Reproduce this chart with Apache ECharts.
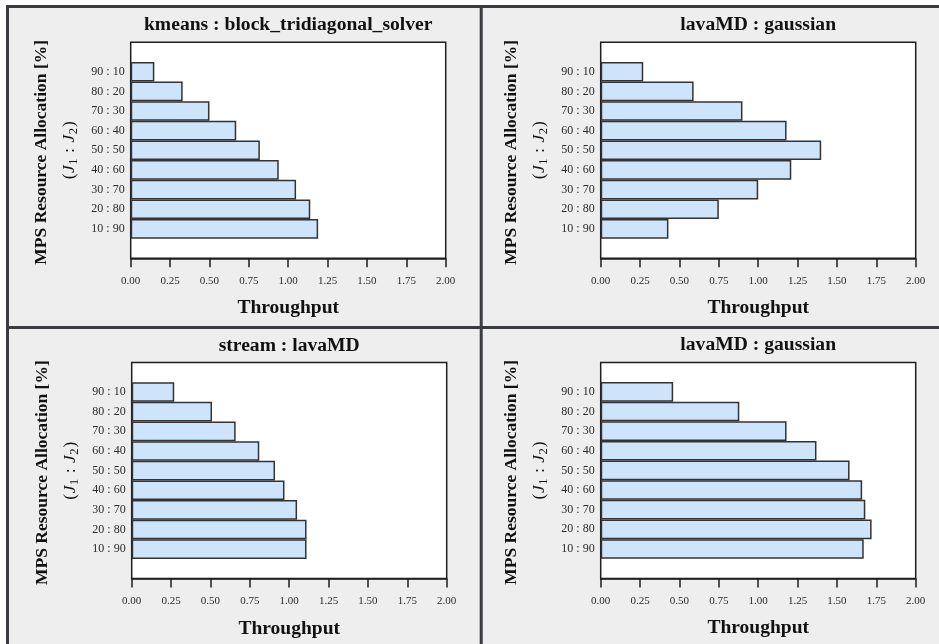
<!DOCTYPE html>
<html>
<head>
<meta charset="utf-8">
<title>MPS resource allocation vs throughput</title>
<script src="https://cdn.jsdelivr.net/npm/echarts@6/dist/echarts.min.js"></script>
<style>
  html, body { margin: 0; padding: 0; background: #ffffff; }
  #chart { width: 939px; height: 644px; }
</style>
</head>
<body>
<div id="chart"></div>
<script>
// ---- data ----
const allocationLabels = ['10 : 90', '20 : 80', '30 : 70', '40 : 60', '50 : 50', '60 : 40', '70 : 30', '80 : 20', '90 : 10'];
const panelTitles = ['kmeans : block_tridiagonal_solver', 'lavaMD : gaussian', 'stream : lavaMD', 'lavaMD : gaussian'];
const kmeansBlockTridiagonal = [1.19, 1.14, 1.05, 0.94, 0.82, 0.67, 0.50, 0.33, 0.15];
const lavaMDGaussianA = [0.43, 0.75, 1.00, 1.21, 1.40, 1.18, 0.90, 0.59, 0.27];
const streamLavaMD = [1.11, 1.11, 1.05, 0.97, 0.91, 0.81, 0.66, 0.51, 0.27];
const lavaMDGaussianB = [1.67, 1.72, 1.68, 1.66, 1.58, 1.37, 1.18, 0.88, 0.46];
const panelValues = [kmeansBlockTridiagonal, lavaMDGaussianA, streamLavaMD, lavaMDGaussianB];
const throughputMin = 0;
const throughputMax = 2;
const throughputStep = 0.25;
const xAxisTitle = 'Throughput';
const yAxisTitle = 'MPS Resource Allocation [%]';

// ---- layout ----
const SERIF = '"Liberation Serif", "Times New Roman", serif';
const plotW = 315, plotH = 216;
const plotBoxes = [
  { left: 130.7, top: 42.3 },
  { left: 600.7, top: 42.3 },
  { left: 131.7, top: 362.6 },
  { left: 600.7, top: 362.4 }
];

const measureCtx = document.createElement('canvas').getContext('2d');
function textWidth(str, size, style, weight) {
  measureCtx.font = (style || 'normal') + ' ' + (weight || 'normal') + ' ' + size + 'px ' + SERIF;
  return measureCtx.measureText(str).width;
}

// pieces of "(J1 : J2)" with subscripts
const mathPieces = [
  { t: '(', size: 17.5, style: 'normal', dy: 0, gap: 0.5 },
  { t: 'J', size: 17.5, style: 'italic', dy: 0, gap: 0.5 },
  { t: '1', size: 12.5, style: 'normal', dy: 4, gap: 5.5 },
  { t: ':', size: 17.5, style: 'normal', dy: 0, gap: 5.5 },
  { t: 'J', size: 17.5, style: 'italic', dy: 0, gap: 0.5 },
  { t: '2', size: 12.5, style: 'normal', dy: 4, gap: 1 },
  { t: ')', size: 17.5, style: 'normal', dy: 0, gap: 0 }
];

function rotatedYTitle(box) {
  const cy = box.top + plotH / 2;
  const line1 = {
    type: 'group', x: box.left - 89, y: cy + 2, rotation: Math.PI / 2,
    children: [{
      type: 'text', x: 0, y: 0,
      style: { text: yAxisTitle, fontFamily: SERIF, fontSize: 17.5, fontWeight: 'bold', fill: '#111',
               align: 'center', verticalAlign: 'middle' }
    }]
  };
  const widths = mathPieces.map(p => textWidth(p.t, p.size, p.style) + p.gap);
  const total = widths.reduce((a, b) => a + b, 0);
  let pos = -total / 2;
  const kids = mathPieces.map((p, i) => {
    const el = {
      type: 'text', x: pos, y: p.dy,
      style: { text: p.t, fontFamily: SERIF, fontSize: p.size, fontStyle: p.style, fill: '#111',
               align: 'left', verticalAlign: 'middle' }
    };
    pos += widths[i];
    return el;
  });
  const line2 = { type: 'group', x: box.left - 61, y: cy, rotation: Math.PI / 2, children: kids };
  return [line1, line2];
}

const grids = [], xAxes = [], yAxes = [], series = [];
let graphics = [
  // panel background and frame lines
  { type: 'rect', z: -10, shape: { x: 7.5, y: 6.5, width: 940, height: 640 }, style: { fill: '#eeeeee' } },
  { type: 'line', z: 10, shape: { x1: 6, y1: 6.5, x2: 939, y2: 6.5 }, style: { stroke: '#3a3c40', lineWidth: 3 } },
  { type: 'line', z: 10, shape: { x1: 7.5, y1: 5, x2: 7.5, y2: 644 }, style: { stroke: '#3a3c40', lineWidth: 3 } },
  { type: 'line', z: 10, shape: { x1: 481.2, y1: 5, x2: 481.2, y2: 644 }, style: { stroke: '#3a3c40', lineWidth: 3 } },
  { type: 'line', z: 10, shape: { x1: 6, y1: 327.5, x2: 939, y2: 327.5 }, style: { stroke: '#3a3c40', lineWidth: 3 } }
];

plotBoxes.forEach((box, i) => {
  grids.push({
    left: box.left, top: box.top, width: plotW, height: plotH,
    show: true, backgroundColor: '#ffffff', borderColor: '#1e1e1e', borderWidth: 1.5
  });
  xAxes.push({
    type: 'value', gridIndex: i, min: throughputMin, max: throughputMax, interval: throughputStep,
    axisLine: { show: true, lineStyle: { color: '#1e1e1e', width: 1.5 } },
    axisTick: { show: true, length: 9, lineStyle: { color: '#1e1e1e', width: 1.5 } },
    splitLine: { show: false },
    axisLabel: { fontFamily: SERIF, fontSize: 11, color: '#2a2a2a', margin: 17.5,
                 formatter: v => v.toFixed(2) },
    name: xAxisTitle, nameLocation: 'middle', nameGap: 40,
    nameTextStyle: { fontFamily: SERIF, fontSize: 19.5, fontWeight: 'bold', color: '#111' }
  });
  yAxes.push({
    type: 'category', gridIndex: i,
    data: [''].concat(allocationLabels, ['']),
    axisLine: { show: false }, axisTick: { show: false }, splitLine: { show: false },
    axisLabel: { fontFamily: SERIF, fontSize: 12, color: '#2a2a2a', margin: 6 }
  });
  series.push({
    type: 'bar', xAxisIndex: i, yAxisIndex: i,
    data: [null].concat(panelValues[i], [null]),
    barCategoryGap: '0%',
    itemStyle: { color: '#cde4fb', borderColor: '#333', borderWidth: 1.5 },
    silent: true
  });
  graphics.push({
    type: 'text', x: box.left + plotW / 2, y: box.top - 17,
    style: { text: panelTitles[i], fontFamily: SERIF, fontSize: 19.6, fontWeight: 'bold', fill: '#111',
             align: 'center', verticalAlign: 'middle' }
  });
  graphics = graphics.concat(rotatedYTitle(box));
});

const chart = echarts.init(document.getElementById('chart'), null, { renderer: 'canvas' });
chart.setOption({
  animation: false,
  backgroundColor: '#ffffff',
  grid: grids,
  xAxis: xAxes,
  yAxis: yAxes,
  series: series,
  graphic: graphics
});
</script>
</body>
</html>
